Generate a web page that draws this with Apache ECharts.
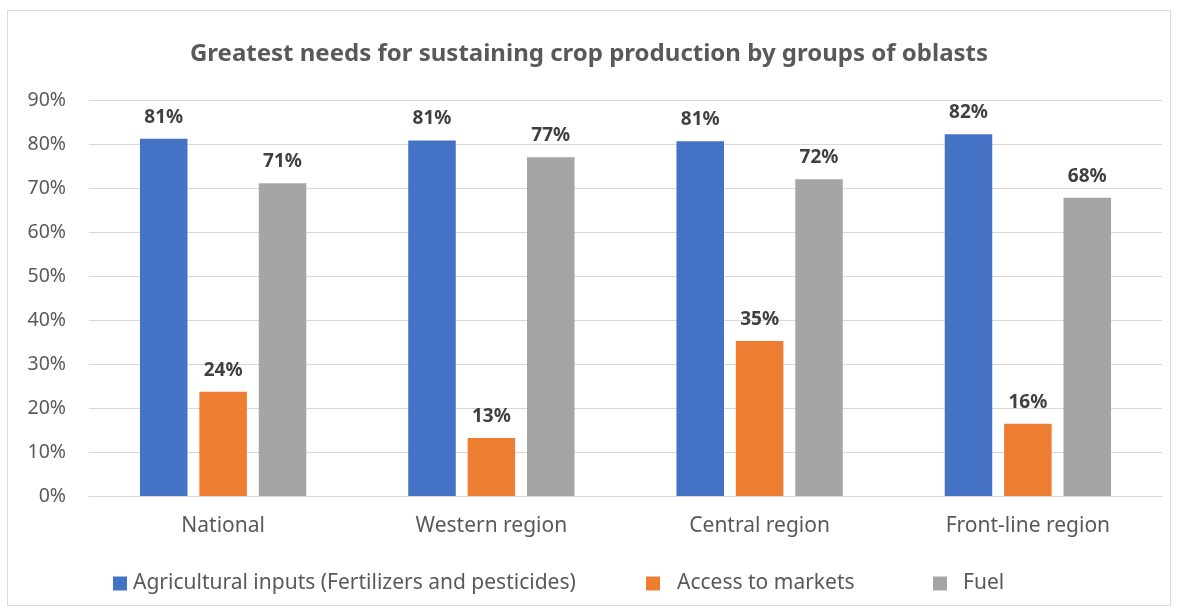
<!DOCTYPE html>
<html><head><meta charset="utf-8">
<script src="https://cdn.jsdelivr.net/npm/echarts@6/dist/echarts.min.js"></script>
<style>html,body{margin:0;padding:0;background:#fff}#c{width:1178px;height:611px}</style>
</head><body><div id="c"></div>
<script>
const categories = ["National", "Western region", "Central region", "Front-line region"];
const agriculturalInputs = [81.2, 80.8, 80.6, 82.2];
const accessToMarkets = [23.7, 13.2, 35.2, 16.4];
const fuel = [71.1, 77.0, 72.0, 67.8];
const seriesNames = ["Agricultural inputs (Fertilizers and pesticides)", "Access to markets", "Fuel"];
const colors = ["#4472C4", "#ED7D31", "#A5A5A5"];

const FONT = "'Noto Sans', sans-serif";
const chart = echarts.init(document.getElementById('c'));
const lbl = {show: true, position: 'top', distance: 12, formatter: p => Math.round(p.value) + '%',
  fontFamily: FONT, fontWeight: 'bold', fontSize: 19, color: '#404040'};
const legendBase = {top: 573, padding: 0, itemWidth: 14, itemHeight: 14, icon: 'rect'};
chart.setOption({
  animation: false,
  graphic: [{type: 'rect', shape: {x: 7.5, y: 10.5, width: 1163, height: 595},
    style: {fill: 'none', stroke: '#D9D9D9', lineWidth: 1}}],
  title: {text: 'Greatest needs for sustaining crop production by groups of oblasts', left: 'center', top: 36,
    textStyle: {fontFamily: FONT, fontWeight: 'bold', fontSize: 24, lineHeight: 26, color: '#595959'}},
  legend: [
    Object.assign({}, legendBase, {left: 113, data: [seriesNames[0]],
      textStyle: {fontFamily: FONT, fontSize: 21, color: '#595959', padding: [0, 0, 0, 1]}}),
    Object.assign({}, legendBase, {left: 646, data: [seriesNames[1]],
      textStyle: {fontFamily: FONT, fontSize: 21, color: '#595959', padding: [0, 0, 0, 12]}}),
    Object.assign({}, legendBase, {left: 933, data: [seriesNames[2]],
      textStyle: {fontFamily: FONT, fontSize: 21, color: '#595959', padding: [0, 0, 0, 11]}})
  ],
  grid: {left: 89, right: 16, top: 100, bottom: 115, containLabel: false},
  xAxis: {type: 'category', data: categories,
    axisLine: {lineStyle: {color: '#D9D9D9'}}, axisTick: {show: false},
    axisLabel: {fontFamily: FONT, fontSize: 21, color: '#595959', margin: 20}},
  yAxis: {type: 'value', min: 0, max: 90, interval: 10,
    axisLabel: {formatter: '{value}%', fontFamily: FONT, fontSize: 19.5, color: '#595959', margin: 23},
    splitLine: {lineStyle: {color: '#D9D9D9', width: 1}}, axisLine: {show: false}, axisTick: {show: false}},
  series: [
    {name: seriesNames[0], type: 'bar', data: agriculturalInputs, itemStyle: {color: colors[0]}, label: lbl, barGap: '25%', barCategoryGap: '38%'},
    {name: seriesNames[1], type: 'bar', data: accessToMarkets, itemStyle: {color: colors[1]}, label: lbl, barGap: '25%', barCategoryGap: '38%'},
    {name: seriesNames[2], type: 'bar', data: fuel, itemStyle: {color: colors[2]}, label: lbl, barGap: '25%', barCategoryGap: '38%'}
  ]
});
</script></body></html>
